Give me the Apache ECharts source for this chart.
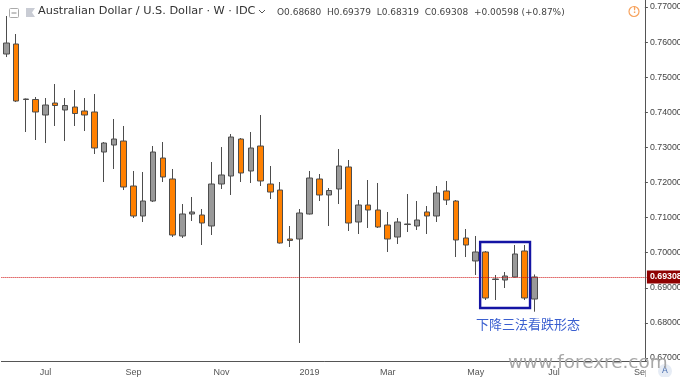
<!DOCTYPE html>
<html><head><meta charset="utf-8">
<style>html,body{margin:0;padding:0;background:#fff}#c{width:680px;height:377px}</style>
<script src="https://cdn.jsdelivr.net/npm/echarts@6/dist/echarts.min.js"></script>
</head><body><div id="c"></div>
<script>
const weeks = ['2018-05-28','2018-06-04','2018-06-11','2018-06-18','2018-06-25','2018-07-02','2018-07-09','2018-07-16','2018-07-23','2018-07-30','2018-08-06','2018-08-13','2018-08-20','2018-08-27','2018-09-03','2018-09-10','2018-09-17','2018-09-24','2018-10-01','2018-10-08','2018-10-15','2018-10-22','2018-10-29','2018-11-05','2018-11-12','2018-11-19','2018-11-26','2018-12-03','2018-12-10','2018-12-17','2018-12-24','2018-12-31','2019-01-07','2019-01-14','2019-01-21','2019-01-28','2019-02-04','2019-02-11','2019-02-18','2019-02-25','2019-03-04','2019-03-11','2019-03-18','2019-03-25','2019-04-01','2019-04-08','2019-04-15','2019-04-22','2019-04-29','2019-05-06','2019-05-13','2019-05-20','2019-05-27','2019-06-03','2019-06-10','2019-06-17','2019-06-24','2019-07-01','2019-07-08','2019-07-15','2019-07-22','2019-07-29','2019-08-05','2019-08-12','2019-08-19','2019-08-26'];
const opens = [.75661,.75946,.74365,.74365,.73923,.74265,.74066,.74151,.74037,.74009,.72869,.73068,.73182,.71900,.71046,.71473,.72698,.72100,.70476,.71103,.71074,.70761,.71957,.72185,.73239,.72328,.73040,.71957,.71786,.70390,.70390,.71103,.72100,.71644,.71815,.72442,.70875,.71359,.71217,.70789,.70447,.70803,.70761,.71160,.71046,.71758,.71473,.70419,.69764,.70020,.69236,.69222,.69308,.70048,.68680];
const closes = [.75974,.74322,.74379,.74009,.74208,.74194,.74194,.73966,.73923,.72983,.73125,.73239,.71872,.71046,.71473,.72869,.72157,.70504,.71103,.71160,.70846,.71957,.72214,.73296,.72271,.72983,.72043,.71729,.70276,.70348,.71131,.72128,.71644,.71772,.72470,.70846,.71359,.71217,.70732,.70390,.70875,.70818,.70932,.71046,.71701,.71501,.70362,.70219,.70020,.68709,.69251,.69336,.69963,.68709,.69308];
const lows = [.75575,.74293,.73439,.73211,.73125,.73610,.73182,.73610,.73467,.72812,.72014,.72385,.71786,.70989,.70875,.71444,.72014,.70447,.70419,.70903,.70219,.70504,.71815,.71644,.72014,.71986,.71900,.71530,.70262,.70162,.67427,.71089,.71473,.70761,.71387,.70618,.70533,.70704,.70704,.70020,.70248,.70590,.70647,.70533,.70875,.71359,.69877,.69877,.69365,.68652,.68652,.68994,.69294,.68652,.68319];
const highs = [.76744,.76231,.74393,.74436,.74407,.74806,.74407,.74635,.74407,.74521,.73154,.73809,.73610,.72328,.72299,.73040,.73154,.72385,.71387,.71587,.71245,.72584,.73011,.73382,.73268,.73439,.73923,.72470,.72014,.70761,.71245,.72328,.72242,.71843,.72954,.72641,.71501,.72071,.71986,.71160,.70989,.71672,.71473,.71330,.71900,.72043,.71501,.70675,.70476,.70048,.69365,.69450,.70219,.70219,.69379];
const monthTicks = {'2018-06-25':'Jul','2018-08-27':'Sep','2018-10-29':'Nov','2018-12-31':'2019','2019-02-25':'Mar','2019-04-29':'May','2019-06-24':'Jul','2019-08-26':'Sep'};
const priceTicks = [.67,.68,.69,.70,.71,.72,.73,.74,.75,.76,.77];
const lastClose = 0.69308;
const patternBox = [[49, 53, 0.70305, 0.68424]];
const titleText = 'Australian Dollar / U.S. Dollar · W · IDC';
const ohlcText = 'O0.68680  H0.69379  L0.68319  C0.69308  +0.00598 (+0.87%)';
const noteText = '下降三法看跌形态';
const watermark = 'www.forexre.com';

const candles = opens.map((o, i) => [o, closes[i], lows[i], highs[i]]);
const isMonth = (i) => monthTicks[weeks[i]] !== undefined;
const font = '"DejaVu Sans", sans-serif';
const axisFont = '"Liberation Sans", sans-serif';
const chart = echarts.init(document.getElementById('c'), null, {renderer: 'canvas'});
chart.setOption({
  animation: false,
  backgroundColor: '#fff',
  grid: {left: 1.4, right: 33.1, top: 0, bottom: 15.5, containLabel: false, outerBoundsMode: 'none'},
  xAxis: {
    type: 'category', data: weeks, z: 1, boundaryGap: true,
    axisLine: {onZero: false, lineStyle: {color: '#555', width: 1}},
    axisTick: {interval: isMonth, alignWithLabel: true, length: 3, lineStyle: {color: '#555'}},
    axisLabel: {
      interval: isMonth, margin: 7, fontSize: 9, color: '#555', fontFamily: axisFont,
      hideOverlap: false, showMinLabel: true, showMaxLabel: true,
      formatter: (v) => monthTicks[v] || ''
    },
    splitLine: {show: false}
  },
  yAxis: {
    type: 'value', position: 'right', min: 0.669, max: 0.772, scale: true, z: 5, offset: -2,
    axisLine: {show: true, onZero: false, lineStyle: {color: '#555', width: 1}},
    axisTick: {show: true, length: 3, lineStyle: {color: '#555'}, customValues: priceTicks},
    axisLabel: {customValues: priceTicks, margin: 5, fontSize: 8.8, color: '#444', fontFamily: axisFont,
      formatter: (v) => v.toFixed(5)},
    splitLine: {show: false}
  },
  series: [
    {
      type: 'candlestick', data: candles, barWidth: 6, z: 3, clip: false,
      itemStyle: {color: '#999999', color0: '#ff8000', borderColor: '#4d4d4d', borderColor0: '#4d4d4d', borderWidth: 1},
      markLine: {
        silent: true, symbol: 'none', animation: false, z: 4, precision: 5,
        lineStyle: {color: '#d01010', type: [1, 1], width: 1},
        label: {position: 'end', formatter: lastClose.toFixed(5), color: '#fff', fontSize: 8.8, fontWeight: 'bold',
          fontFamily: axisFont, backgroundColor: '#8f0000', padding: [2, 3, 2, 3], distance: 0},
        data: [{yAxis: lastClose}]
      }
    },
    {
      type: 'custom', z: 4, clip: false, data: patternBox, silent: true,
      encode: {x: [0, 1], y: [2, 3]},
      renderItem: (params, api) => {
        const half = api.size([1, 0])[0] * 0.55;
        const a = api.coord([api.value(0), api.value(2)]);
        const b = api.coord([api.value(1), api.value(3)]);
        return {type: 'rect', shape: {x: a[0] - half, y: a[1], width: b[0] - a[0] + 2 * half, height: b[1] - a[1]},
          style: {fill: 'none', stroke: '#1414a4', lineWidth: 2.4}};
      }
    }
  ],
  graphic: [
    {type: 'rect', z: 2, silent: true, shape: {x: 646, y: 362, width: 34, height: 15}, style: {fill: '#fff'}},
    {type: 'rect', z: 6, shape: {x: 9.5, y: 8.5, width: 9, height: 9, r: 1}, style: {fill: '#fff', stroke: '#aaa'}},
    {type: 'line', z: 6, shape: {x1: 11.5, y1: 13, x2: 16.5, y2: 13}, style: {stroke: '#888'}},
    {type: 'polygon', z: 6, shape: {points: [[26, 8], [35, 8], [32, 12.5], [35, 17], [26, 17]]}, style: {fill: '#c9ccd4'}},
    {type: 'text', z: 6, x: 38, y: 6, style: {text: titleText, font: '11.3px ' + font, fill: '#333'}},
    {type: 'polyline', z: 6, shape: {points: [[259, 10], [262, 13], [265, 10]]}, style: {stroke: '#555', fill: 'none'}},
    {type: 'text', z: 6, x: 277, y: 8, style: {text: ohlcText, font: '9px ' + font, fill: '#444'}},
    {type: 'circle', z: 6, shape: {cx: 634, cy: 11.5, r: 5}, style: {fill: '#fff', stroke: '#f7a25c', lineWidth: 1.2}},
    {type: 'text', z: 6, x: 632.7, y: 7, style: {text: '!', font: 'bold 8px ' + font, fill: '#f7a25c'}},
    {type: 'text', z: 6, x: 476, y: 318, style: {text: noteText, font: '13px "Noto Sans CJK SC", sans-serif', fill: '#3a5fd0'}},
    {type: 'circle', z: 5, shape: {cx: 665, cy: 371, r: 7}, style: {fill: '#e6ecf5'}},
    {type: 'text', z: 5, x: 662, y: 366, style: {text: 'A', font: '8.5px ' + font, fill: '#4a6fb0'}},
    {type: 'text', z: 6, x: 508, y: 354, style: {text: watermark, font: '18.4px ' + font, fill: '#a8a8a8'}}
  ]
});
</script></body></html>
